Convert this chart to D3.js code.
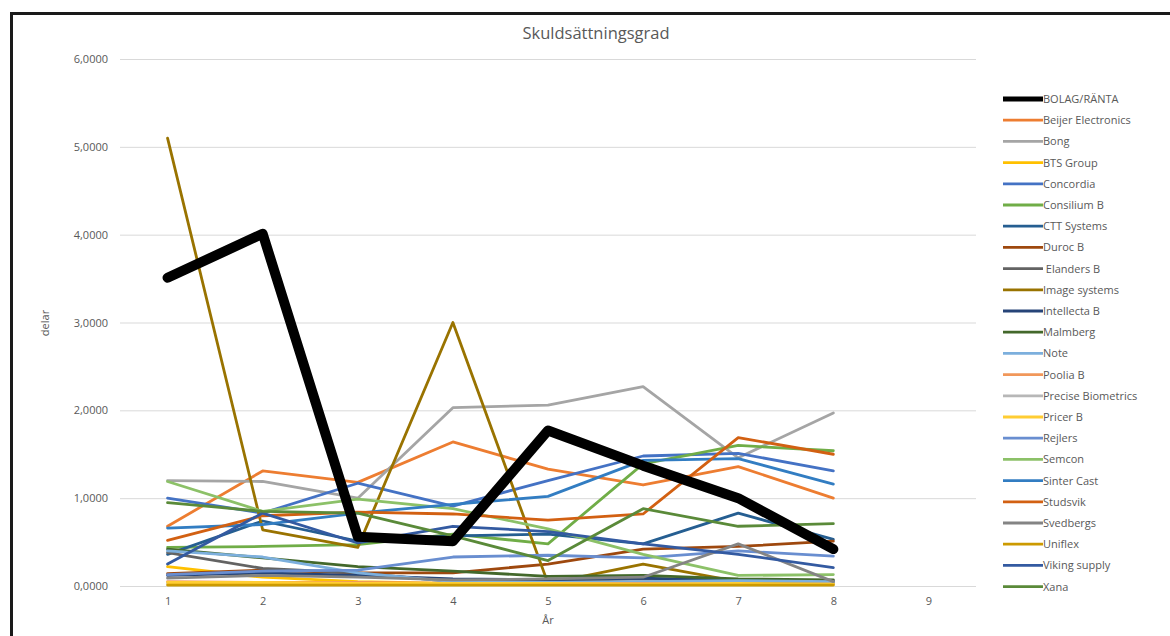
<!DOCTYPE html>
<html>
<head>
<meta charset="utf-8">
<script src="https://cdn.jsdelivr.net/npm/d3@7"></script>
<style>
  html, body { margin: 0; padding: 0; background: #fff; }
  svg { display: block; }
  text { font-family: "Open Sans", "Liberation Sans", sans-serif; fill: #595959; }
</style>
</head>
<body>
<svg id="chart" width="1170" height="636"></svg>
<script>
// Years on the category axis
const years = [1, 2, 3, 4, 5, 6, 7, 8, 9];
const yTicks = [0, 1, 2, 3, 4, 5, 6];

// Company names, in legend order
const names = [
  "BOLAG/RÄNTA", "Beijer Electronics", "Bong", "BTS Group", "Concordia",
  "Consilium B", "CTT Systems", "Duroc B", " Elanders B", "Image systems",
  "Intellecta B", "Malmberg", "Note", "Poolia B", "Precise Biometrics",
  "Pricer B", "Rejlers", "Semcon", "Sinter Cast", "Studsvik",
  "Svedbergs", "Uniflex", "Viking supply", "Xana"
];

const colors = [
  "#000000", "#ED7D31", "#A5A5A5", "#FFC000", "#4472C4",
  "#70AD47", "#255E91", "#9E480E", "#636363", "#997300",
  "#264478", "#43682B", "#7CAFDD", "#F1975A", "#B7B7B7",
  "#FFCD33", "#698ED0", "#8CC168", "#327DC2", "#D26012",
  "#848484", "#CC9A00", "#335AA1", "#5A8A39"
];

// Debt-to-equity ratio per company, years 1–8
const bolagRanta      = [3.51, 4.01, 0.56, 0.51, 1.77, 1.37, 1.00, 0.42];
const beijer          = [0.68, 1.31, 1.18, 1.64, 1.33, 1.15, 1.36, 1.00];
const bong            = [1.20, 1.19, 1.00, 2.03, 2.06, 2.27, 1.46, 1.97];
const btsGroup        = [0.22, 0.10, 0.05, 0.03, 0.03, 0.02, 0.02, 0.02];
const concordia       = [1.00, 0.83, 1.17, 0.91, 1.20, 1.48, 1.51, 1.31];
const consilium       = [0.44, 0.45, 0.47, 0.59, 0.48, 1.39, 1.60, 1.54];
const cttSystems      = [0.36, 0.74, 0.51, 0.57, 0.59, 0.48, 0.83, 0.53];
const duroc           = [0.14, 0.18, 0.15, 0.15, 0.25, 0.42, 0.45, 0.51];
const elanders        = [0.38, 0.20, 0.15, 0.05, 0.06, 0.08, 0.07, 0.06];
const imageSystems    = [5.10, 0.64, 0.44, 3.00, 0.03, 0.25, 0.05, 0.03];
const intellecta      = [0.12, 0.15, 0.12, 0.08, 0.07, 0.09, 0.06, 0.05];
const malmberg        = [0.42, 0.32, 0.22, 0.17, 0.11, 0.12, 0.08, 0.07];
const note            = [0.40, 0.33, 0.15, 0.05, 0.04, 0.05, 0.06, 0.05];
const poolia          = [0.05, 0.04, 0.04, 0.03, 0.03, 0.03, 0.02, 0.02];
const preciseBiom     = [0.03, 0.03, 0.02, 0.02, 0.02, 0.02, 0.02, 0.02];
const pricer          = [0.04, 0.04, 0.03, 0.03, 0.03, 0.02, 0.03, 0.02];
const rejlers         = [0.13, 0.17, 0.18, 0.33, 0.35, 0.32, 0.40, 0.34];
const semcon          = [1.19, 0.85, 0.99, 0.88, 0.65, 0.36, 0.12, 0.13];
const sinterCast      = [0.66, 0.70, 0.83, 0.93, 1.02, 1.43, 1.45, 1.16];
const studsvik        = [0.52, 0.80, 0.84, 0.82, 0.75, 0.82, 1.69, 1.50];
const svedbergs       = [0.09, 0.12, 0.10, 0.07, 0.08, 0.10, 0.48, 0.05];
const uniflex         = [0.01, 0.01, 0.01, 0.01, 0.01, 0.01, 0.01, 0.01];
const vikingSupply    = [0.25, 0.83, 0.49, 0.68, 0.62, 0.48, 0.36, 0.21];
const xana            = [0.95, 0.85, 0.83, 0.57, 0.29, 0.88, 0.68, 0.71];

const seriesValues = [
  bolagRanta, beijer, bong, btsGroup, concordia, consilium, cttSystems, duroc,
  elanders, imageSystems, intellecta, malmberg, note, poolia, preciseBiom,
  pricer, rejlers, semcon, sinterCast, studsvik, svedbergs, uniflex,
  vikingSupply, xana
];

const series = names.map((n, i) => ({ name: n, color: colors[i], values: seriesValues[i] }));

const svg = d3.select("#chart");

// Outer frame
svg.append("rect")
  .attr("x", 11.5).attr("y", 13.5)
  .attr("width", 1170).attr("height", 640)
  .attr("fill", "none").attr("stroke", "#1a1a1a").attr("stroke-width", 3);

const plot = { left: 120, right: 976, top: 59, bottom: 586 };

const x = d3.scalePoint().domain(years).range([plot.left, plot.right]).padding(0.5);
const y = d3.scaleLinear().domain([0, 6]).range([plot.bottom, plot.top]);

const fmt = v => d3.format(".4f")(v).replace(".", ",");

// Horizontal gridlines + y labels
const yAxis = d3.axisLeft(y).tickValues(yTicks).tickFormat(fmt)
  .tickSize(-(plot.right - plot.left)).tickPadding(12);
const gy = svg.append("g").attr("transform", `translate(${plot.left},0)`).call(yAxis);
gy.select(".domain").remove();
gy.selectAll(".tick line").attr("stroke", "#d9d9d9").attr("stroke-width", 1);
gy.selectAll(".tick text").attr("font-size", 11).style("fill", "#595959");

// Category labels
const xAxis = d3.axisBottom(x).tickSize(0).tickPadding(11);
const gx = svg.append("g").attr("transform", `translate(0,${plot.bottom})`).call(xAxis);
gx.select(".domain").remove();
gx.selectAll(".tick text").attr("font-size", 11).style("fill", "#595959");

// Lines (bold summary line drawn last, on top)
const line = d3.line()
  .x((d, i) => x(years[i]))
  .y(d => y(d));

const order = series.slice(1).concat([series[0]]);
svg.append("g").selectAll("path")
  .data(order)
  .join("path")
  .attr("d", d => line(d.values))
  .attr("fill", "none")
  .attr("stroke", d => d.color)
  .attr("stroke-width", d => d.name === "BOLAG/RÄNTA" ? 10 : 2.8)
  .attr("stroke-linejoin", "round")
  .attr("stroke-linecap", "round");

// Title and axis titles
svg.append("text").attr("x", 596).attr("y", 39)
  .attr("text-anchor", "middle").attr("font-size", 16.5).text("Skuldsättningsgrad");

svg.append("text").attr("transform", "translate(49,323) rotate(-90)")
  .attr("text-anchor", "middle").attr("font-size", 11).text("delar");

svg.append("text").attr("x", 548).attr("y", 624)
  .attr("text-anchor", "middle").attr("font-size", 11).text("År");

// Legend
const legend = svg.append("g");
const lg = legend.selectAll("g").data(series).join("g")
  .attr("transform", (d, i) => `translate(1003,${99 + i * 21.2})`);
lg.append("line").attr("x1", 0).attr("x2", 40).attr("y1", 0).attr("y2", 0)
  .attr("stroke", d => d.color)
  .attr("stroke-width", d => d.name === "BOLAG/RÄNTA" ? 5 : 2.8);
lg.append("text").attr("x", 40).attr("y", 4)
  .attr("font-size", 11)
  .style("white-space", "pre")
  .text(d => d.name);
</script>
</body>
</html>
